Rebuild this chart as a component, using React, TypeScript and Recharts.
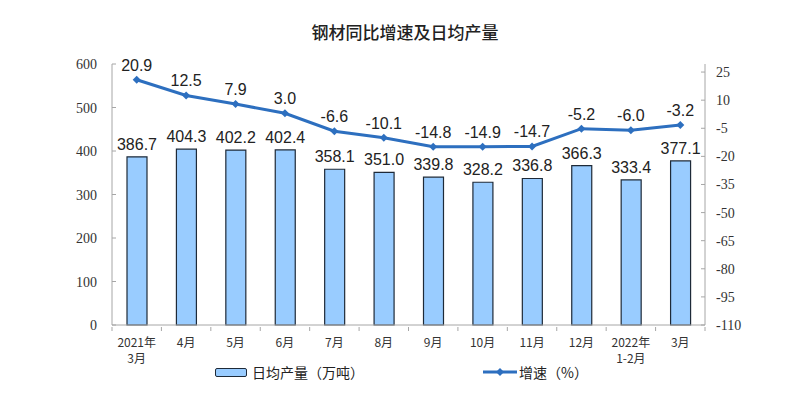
import { ComposedChart, Bar, Line, XAxis, YAxis, LabelList } from 'recharts';

// 钢材同比增速及日均产量
const months = ['2021年|3月', '4月', '5月', '6月', '7月', '8月', '9月', '10月', '11月', '12月', '2022年|1-2月', '3月'];
const dailyOutput = [386.7, 404.3, 402.2, 402.4, 358.1, 351.0, 339.8, 328.2, 336.8, 366.3, 333.4, 377.1];
const growth = [20.9, 12.5, 7.9, 3.0, -6.6, -10.1, -14.8, -14.9, -14.7, -5.2, -6.0, -3.2];
const leftTicks = [0, 100, 200, 300, 400, 500, 600];
const rightTicks = [-110, -95, -80, -65, -50, -35, -20, -5, 10, 25];

const BAR_FILL = '#99CCFF';
const LINE_COLOR = '#2D6FBF';
const AXIS = '#A6A6A6';
const SERIF = "'Liberation Serif', 'Times New Roman', serif";
const CJK = "'Noto Sans CJK SC', sans-serif";

const data = months.map((m, i) => ({ month: m, output: dailyOutput[i], growth: growth[i] }));

// x 轴：两行标签 + 类目分隔处的小刻度（朝内）
function MonthTick(props: any) {
  const { x, y, payload, index, visibleTicksCount } = props;
  const lines = String(payload.value).split('|');
  const half = 593 / 12 / 2;
  const axisY = y - 2;
  return (
    <g>
      <line x1={x - half} y1={axisY} x2={x - half} y2={axisY - 4} stroke={AXIS} />
      {index === visibleTicksCount - 1 && (
        <line x1={x + half} y1={axisY} x2={x + half} y2={axisY - 4} stroke={AXIS} />
      )}
      <text x={x} y={y} textAnchor="middle" fontSize={12} fill="#333" fontFamily={CJK}>
        {lines.map((l, i) => (
          <tspan key={i} x={x} dy={i === 0 ? 14 : 16}>{l}</tspan>
        ))}
      </text>
    </g>
  );
}

function LeftTick(props: any) {
  const { x, y, payload } = props;
  const ax = x + 15;
  return (
    <g>
      <line x1={ax} y1={y} x2={ax + 4} y2={y} stroke={AXIS} />
      <text x={x} y={y} dy={5} textAnchor="end" fontSize={14} fill="#333" fontFamily={SERIF}>{payload.value}</text>
    </g>
  );
}

function RightTick(props: any) {
  const { x, y, payload } = props;
  const ax = x - 11;
  return (
    <g>
      <line x1={ax} y1={y} x2={ax - 4} y2={y} stroke={AXIS} />
      <text x={x} y={y} dy={5} textAnchor="start" fontSize={14} fill="#333" fontFamily={SERIF}>{payload.value}</text>
    </g>
  );
}

function Diamond(props: any) {
  const { cx, cy } = props;
  if (cx == null || cy == null) return null;
  const r = 4;
  return <path d={`M${cx},${cy - r}L${cx + r},${cy}L${cx},${cy + r}L${cx - r},${cy}Z`} fill={LINE_COLOR} />;
}

const fmt = (v: any) => Number(v).toFixed(1);

export default function App() {
  return (
    <div style={{ position: 'absolute', left: 0, top: 0, width: 810, height: 393, background: '#fff', fontFamily: "'Liberation Sans', Arial, sans-serif" }}>
      <div style={{ position: 'absolute', left: 0, width: 810, top: 19, textAlign: 'center', fontSize: 17, fontWeight: 500, color: '#222', fontFamily: CJK }}>
        钢材同比增速及日均产量
      </div>
      <ComposedChart width={810} height={393} data={data} margin={{ top: 64, right: 0, bottom: 0, left: 0 }}>
        <XAxis
          dataKey="month"
          height={68}
          interval={0}
          tick={<MonthTick />}
          tickLine={false}
          axisLine={{ stroke: AXIS }}
        />
        <YAxis
          yAxisId="left"
          width={112}
          domain={[0, 600]}
          ticks={leftTicks}
          tickLine={false}
          tickSize={0}
          tickMargin={15}
          axisLine={{ stroke: AXIS }}
          tick={<LeftTick />}
        />
        <YAxis
          yAxisId="right"
          orientation="right"
          width={105}
          domain={[-110, 29.3]}
          ticks={rightTicks}
          tickLine={false}
          tickSize={0}
          tickMargin={11}
          axisLine={{ stroke: AXIS }}
          tick={<RightTick />}
        />
        <Bar yAxisId="left" dataKey="output" fill={BAR_FILL} stroke="#1E2A38" strokeWidth={1.2} barSize={20} isAnimationActive={false}>
          <LabelList dataKey="output" position="top" offset={7} formatter={fmt} style={{ fontSize: 16, fill: '#222' }} />
        </Bar>
        <Line
          yAxisId="right"
          dataKey="growth"
          stroke={LINE_COLOR}
          strokeWidth={3}
          dot={<Diamond />}
          activeDot={false}
          isAnimationActive={false}
        >
          <LabelList dataKey="growth" position="top" offset={9} formatter={fmt} style={{ fontSize: 16, fill: '#222' }} />
        </Line>
      </ComposedChart>
      <div style={{ position: 'absolute', left: 215, top: 362, display: 'flex', alignItems: 'center', fontSize: 14, color: '#222', fontFamily: CJK }}>
        <span style={{ display: 'inline-block', width: 30, height: 7, background: BAR_FILL, border: '1.5px solid #1E2A38', borderRadius: 2, marginRight: 5 }} />
        日均产量（万吨）
      </div>
      <div style={{ position: 'absolute', left: 483, top: 362, display: 'flex', alignItems: 'center', fontSize: 14, color: '#222', fontFamily: CJK }}>
        <svg width={34} height={10} style={{ marginRight: 2 }}>
          <line x1={0} y1={5} x2={34} y2={5} stroke={LINE_COLOR} strokeWidth={3} />
          <path d="M17,1L21,5L17,9L13,5Z" fill={LINE_COLOR} />
        </svg>
        增速（%）
      </div>
    </div>
  );
}
